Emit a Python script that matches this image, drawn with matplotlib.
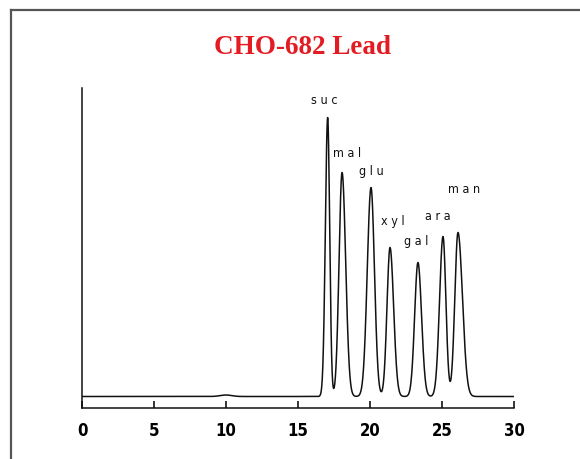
import numpy as np
import matplotlib
matplotlib.use("Agg")
import matplotlib.pyplot as plt
from matplotlib.lines import Line2D

# peak table (retention min, height mV, left/right sigma min)
sugars = ["suc", "mal", "glu", "xyl", "gal", "ara", "man"]
ret_time = [17.06, 18.06, 20.07, 21.39, 23.33, 25.07, 26.11]
height = [27.9, 22.4, 20.9, 14.9, 13.4, 16.0, 16.4]
sigma_left = [0.16, 0.21, 0.26, 0.21, 0.23, 0.24, 0.22]
sigma_right = [0.14, 0.25, 0.24, 0.25, 0.25, 0.20, 0.31]

# small baseline disturbance near 10 min
bump_time = [10.0]
bump_height = [0.15]
bump_width = [0.4]

# label positions (min, mV)
label_t = [16.85, 18.4, 20.1, 21.55, 23.2, 24.7, 26.55]
label_y = [29.6, 24.3, 22.5, 17.5, 15.5, 18.0, 20.7]

xticks = [0, 5, 10, 15, 20, 25, 30]

narrow = ["DejaVu Sans"]

t = np.linspace(0, 30, 3000)
signal = np.zeros_like(t)
for t0, h, sl, sr in zip(ret_time, height, sigma_left, sigma_right):
    s = np.where(t < t0, sl, sr)
    signal += h * np.exp(-0.5 * ((t - t0) / s) ** 2)
for t0, h, w in zip(bump_time, bump_height, bump_width):
    signal += h * np.exp(-0.5 * ((t - t0) / w) ** 2)

fig = plt.figure(figsize=(5.8, 4.59), dpi=100)
ax = fig.add_axes([82 / 580, 1 - 408 / 459, (514 - 82) / 580, (408 - 88) / 459])

ax.plot(t, signal, color="#111111", lw=1.1)

ax.set_xlim(0, 30)
ax.set_ylim(-1.15, 30.85)
ax.set_xticks(xticks)
ax.set_xticklabels([str(v) for v in xticks], family=narrow, fontstretch="condensed",
                   fontweight="bold", fontsize=12)
ax.set_yticks([])
ax.tick_params(axis="x", direction="in", length=5, width=1.1, pad=10)
for side in ["top", "right"]:
    ax.spines[side].set_visible(False)
for side in ["left", "bottom"]:
    ax.spines[side].set_linewidth(1.1)
    ax.spines[side].set_color("#111111")

for name, x, y in zip(sugars, label_t, label_y):
    ax.text(x, y, " ".join(name), family=narrow, fontstretch="condensed",
            fontsize=9, ha="center", va="center", color="#111111")

fig.text(302 / 580, 1 - 47 / 459, "CHO-682 Lead", family=["Liberation Serif"],
         fontweight="bold", fontsize=19.5, color="#e31b23",
         ha="center", va="center")

# frame lines at top and left of the slide
fig.add_artist(Line2D([11 / 580, 1], [1 - 10 / 459, 1 - 10 / 459],
                      transform=fig.transFigure, color="#555555", lw=1.6))
fig.add_artist(Line2D([11 / 580, 11 / 580], [0, 1 - 10 / 459],
                      transform=fig.transFigure, color="#555555", lw=1.6))

fig.savefig("out.png", dpi=100)
